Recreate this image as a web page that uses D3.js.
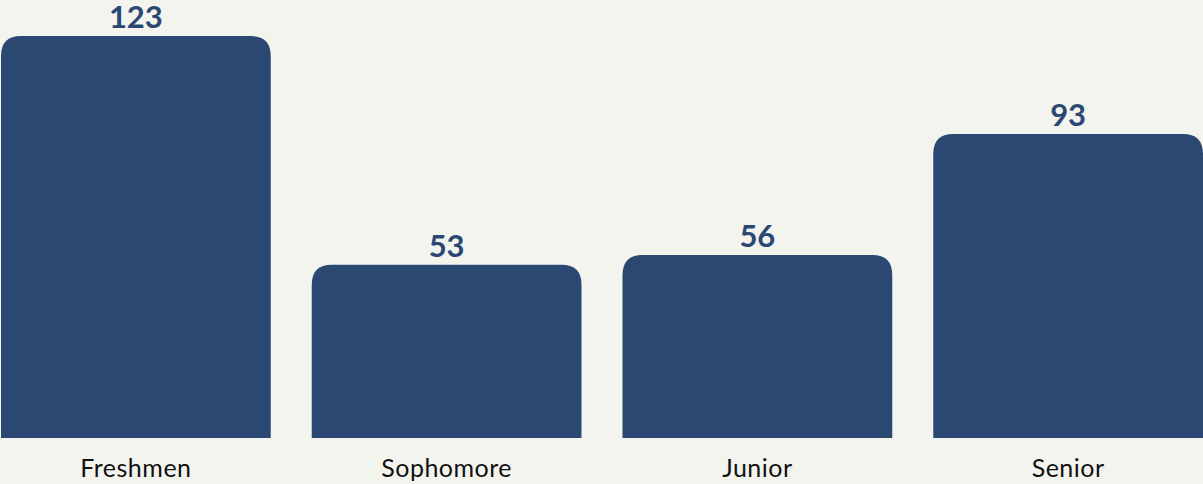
<!DOCTYPE html>
<html>
<head>
<meta charset="utf-8">
<script src="https://cdn.jsdelivr.net/npm/d3@7"></script>
<style>
  body { margin: 0; background: #f4f4ef; }
  svg { display: block; }
</style>
</head>
<body>
<script>
// data
var categories = ["Freshmen", "Sophomore", "Junior", "Senior"];
var counts = [123, 53, 56, 93];

var W = 1203, H = 484;
var baseY = 438, topY = 36;
var r = 20;

var svg = d3.select("body").append("svg")
    .attr("width", W)
    .attr("height", H);

var x = d3.scaleBand()
    .domain(categories)
    .range([1, W])
    .paddingInner(0.132)
    .paddingOuter(0);

var y = d3.scaleLinear()
    .domain([0, 123])
    .range([baseY, topY]);

// bar path with rounded top corners
function barPath(x0, y0, w, h) {
  var rr = Math.min(r, w / 2, h);
  return "M" + x0 + "," + (y0 + h)
    + "V" + (y0 + rr)
    + "Q" + x0 + "," + y0 + " " + (x0 + rr) + "," + y0
    + "H" + (x0 + w - rr)
    + "Q" + (x0 + w) + "," + y0 + " " + (x0 + w) + "," + (y0 + rr)
    + "V" + (y0 + h) + "Z";
}

var data = categories.map(function(c, i) { return {cat: c, val: counts[i]}; });

svg.selectAll(".bar")
    .data(data)
  .enter().append("path")
    .attr("class", "bar")
    .attr("fill", "#2b4873")
    .attr("d", function(d) {
      return barPath(x(d.cat), y(d.val), x.bandwidth(), baseY - y(d.val));
    });

// value labels
svg.selectAll(".val")
    .data(data)
  .enter().append("text")
    .attr("class", "val")
    .attr("x", function(d) { return x(d.cat) + x.bandwidth() / 2; })
    .attr("y", function(d) { return y(d.val) - 8; })
    .attr("text-anchor", "middle")
    .style("font-family", "Lato, 'Open Sans', sans-serif")
    .style("font-weight", "bold")
    .style("font-size", "31px")
    .style("fill", "#2b4873")
    .text(function(d) { return d.val; });

// category axis
var xAxis = svg.append("g")
    .attr("transform", "translate(0," + baseY + ")")
    .call(d3.axisBottom(x).tickSize(0).tickPadding(0));
xAxis.select(".domain").remove();
xAxis.selectAll("text")
    .attr("y", 39)
    .attr("dy", null)
    .style("font-family", "Lato, 'Open Sans', sans-serif")
    .style("font-size", "25px")
    .style("letter-spacing", "0.5px")
    .style("fill", "#111");
</script>
</body>
</html>
